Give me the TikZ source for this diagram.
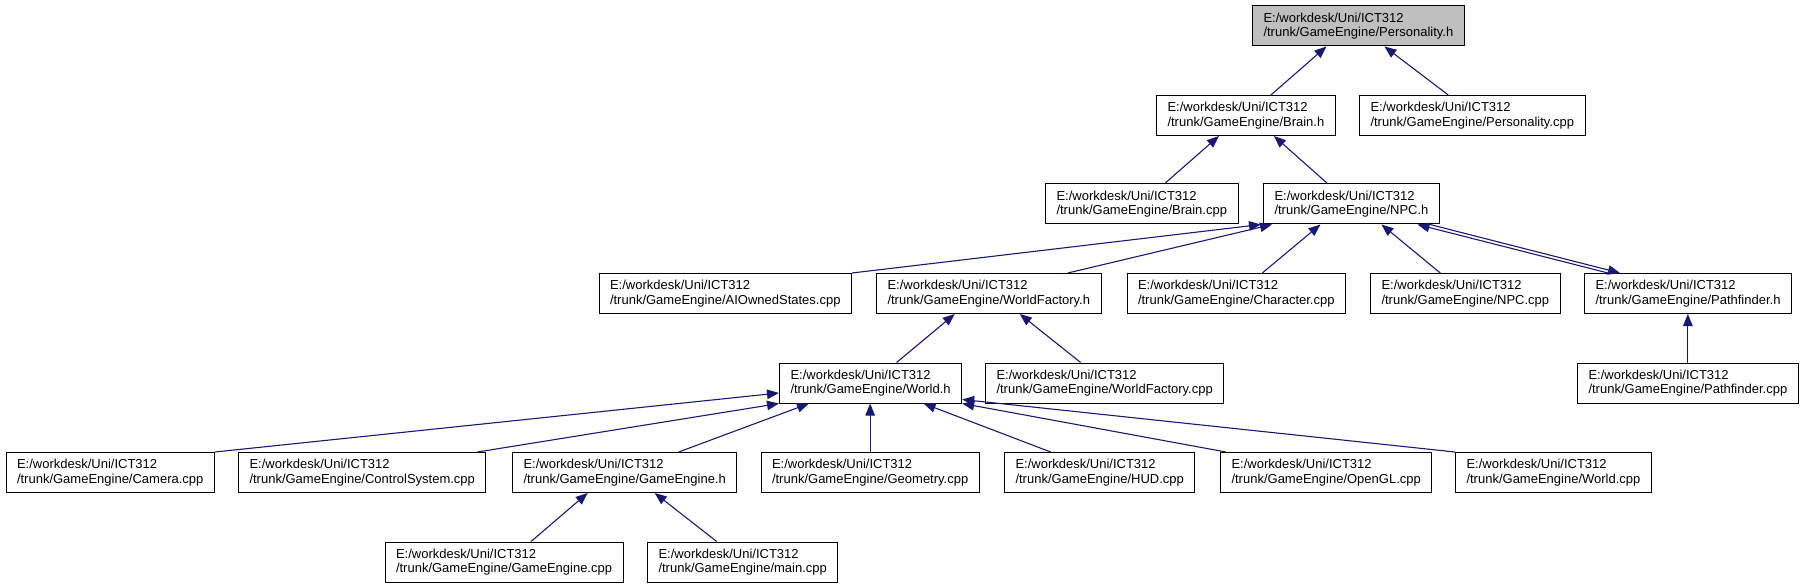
\documentclass[tikz,border=0pt]{standalone}
\usepackage{fontspec}
\setmainfont{Liberation Sans}
\usepackage{xcolor}
\usetikzlibrary{arrows.meta}

\definecolor{edgeblue}{RGB}{25,25,112}
\definecolor{rootgray}{RGB}{191,191,191}
\newcommand{\gepath}{E:/workdesk/Uni/ICT312\\/trunk/GameEngine/}

\begin{document}
\begin{tikzpicture}[x=1pt,y=-1pt,
  filebox/.style={draw=black, line width=1pt, fill=white, anchor=west, align=left,
    minimum height=40pt, inner xsep=11pt, inner ysep=0pt,
    font=\fontsize{13}{14.5}\selectfont},
  incl/.style={draw=edgeblue, line width=1.1pt, -{Triangle[length=12pt,width=9.5pt]}}]
\useasboundingbox (0,0) rectangle (1804,588);
% files
\node[filebox, fill=rootgray] (personh) at (1252,26) {\gepath Personality.h};
\node[filebox] (brainh) at (1156,115.5) {\gepath Brain.h};
\node[filebox] (perscpp) at (1359,115.5) {\gepath Personality.cpp};
\node[filebox] (braincpp) at (1045,204) {\gepath Brain.cpp};
\node[filebox] (npch) at (1263,204) {\gepath NPC.h};
\node[filebox] (aiowned) at (598.5,293.5) {\gepath AIOwnedStates.cpp};
\node[filebox] (wfh) at (876,293.5) {\gepath WorldFactory.h};
\node[filebox] (charcpp) at (1126.5,293.5) {\gepath Character.cpp};
\node[filebox] (npccpp) at (1370,293.5) {\gepath NPC.cpp};
\node[filebox] (pathh) at (1584,293.5) {\gepath Pathfinder.h};
\node[filebox] (worldh) at (779,383) {\gepath World.h};
\node[filebox] (wfcpp) at (985,383) {\gepath WorldFactory.cpp};
\node[filebox] (pathcpp) at (1577,383) {\gepath Pathfinder.cpp};
\node[filebox] (camcpp) at (5.5,472.5) {\gepath Camera.cpp};
\node[filebox] (ctrlcpp) at (238,472.5) {\gepath ControlSystem.cpp};
\node[filebox] (gameh) at (512,472.5) {\gepath GameEngine.h};
\node[filebox] (geocpp) at (760.5,472.5) {\gepath Geometry.cpp};
\node[filebox] (hudcpp) at (1004,472.5) {\gepath HUD.cpp};
\node[filebox] (glcpp) at (1220,472.5) {\gepath OpenGL.cpp};
\node[filebox] (worldcpp) at (1455,472.5) {\gepath World.cpp};
\node[filebox] (gamecpp) at (384.5,562) {\gepath GameEngine.cpp};
\node[filebox] (maincpp) at (647,562) {\gepath main.cpp};
% includes
\draw[incl] ([xshift=25pt]brainh.north) -- ([xshift=-32pt]personh.south);
\draw[incl] ([xshift=-24pt]perscpp.north) -- ([xshift=26pt]personh.south);
\draw[incl] ([xshift=23pt]braincpp.north) -- ([xshift=-27pt]brainh.south);
\draw[incl] ([xshift=-24pt]npch.north) -- ([xshift=28pt]brainh.south);
\draw[incl] (aiowned.north east) -- ([xshift=-2pt]npch.south west);
\draw[incl] ([xshift=79pt]wfh.north) -- ([xshift=9pt]npch.south west);
\draw[incl] ([xshift=26pt]charcpp.north) -- ([xshift=-31pt]npch.south);
\draw[incl] ([xshift=-25pt]npccpp.north) -- ([xshift=30pt]npch.south);
\draw[incl] ([xshift=-80pt]pathh.north) -- ([xshift=66pt]npch.south);
\draw[incl] ([xshift=-10pt]npch.south east) -- ([xshift=-68pt]pathh.north);
\draw[incl] (pathcpp.north) -- (pathcpp.north |- pathh.south);
\draw[incl] ([xshift=26pt]worldh.north) -- ([xshift=-34pt]wfh.south);
\draw[incl] ([xshift=-24pt]wfcpp.north) -- ([xshift=31pt]wfh.south);
\draw[incl] (camcpp.north east) -- ([yshift=-10pt]worldh.west);
\draw[incl] ([xshift=-9pt]ctrlcpp.north east) -- (worldh.south west);
\draw[incl] ([xshift=54pt]gameh.north) -- ([xshift=30pt]worldh.south west);
\draw[incl] (geocpp.north) -- (geocpp.north |- worldh.south);
\draw[incl] ([xshift=-49pt]hudcpp.north) -- ([xshift=53pt]worldh.south);
\draw[incl] ([xshift=6pt]glcpp.north west) -- (worldh.south east);
\draw[incl] (worldcpp.north west) -- ([yshift=4pt]worldh.south east);
\draw[incl] ([xshift=27pt]gamecpp.north) -- ([xshift=-37pt]gameh.south);
\draw[incl] ([xshift=-26pt]maincpp.north) -- ([xshift=30pt]gameh.south);
\end{tikzpicture}
\end{document}
